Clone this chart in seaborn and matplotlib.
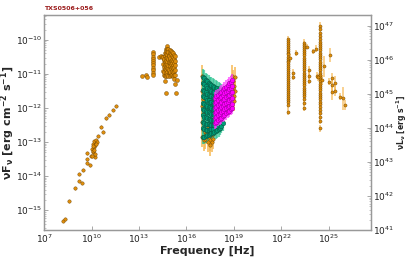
import numpy as np
import matplotlib
matplotlib.use("Agg")
import matplotlib.pyplot as plt
import seaborn as sns
from matplotlib.ticker import LogLocator, NullLocator, FixedLocator

# all values are log10(nu [Hz]) and log10(nuFnu [erg cm-2 s-1])
radio_nu = [8.22, 8.35, 8.60, 8.96, 9.20, 9.40, 9.20, 9.45, 9.70, 9.70, 9.74, 9.90, 9.95,
            10.05, 10.10, 10.12, 10.15, 10.18, 10.20, 10.25, 10.30, 10.35, 10.12, 10.22,
            10.08, 10.16, 10.28, 10.02,
            10.44, 10.60, 10.75, 10.92, 11.13, 11.37, 11.55]
radio_f = [-15.31, -15.26, -14.74, -14.36, -14.14, -14.20, -13.94, -13.82, -13.33, -13.62,
           -13.50, -13.68, -13.40, -13.20, -13.05, -13.30, -12.98, -13.15, -13.44, -13.10,
           -12.95, -13.00, -13.25, -13.35, -13.12, -13.22, -13.05, -13.42,
           -12.82, -12.55, -12.70, -12.30, -12.20, -12.06, -11.94]

# IR / optical / UV, orange
opt_nu = [13.18, 13.43, 13.50,
          13.88, 13.90, 13.89, 13.91, 13.88, 13.90, 13.89, 13.91, 13.90, 13.88, 13.90,
          14.28, 14.38, 14.47,
          14.55, 14.56, 14.54, 14.57, 14.55, 14.56,
          14.62, 14.63, 14.61, 14.64, 14.62, 14.63, 14.61, 14.62,
          14.70, 14.72, 14.69, 14.71, 14.70, 14.73, 14.68, 14.70, 14.72, 14.71,
          14.77, 14.78, 14.76, 14.79, 14.77, 14.80, 14.78, 14.76, 14.77, 14.79,
          14.86, 14.85, 14.88, 14.84, 14.87, 14.86, 14.85, 14.87, 14.86,
          14.93, 14.94, 14.92, 14.95, 14.93, 14.94, 14.92, 14.95, 14.93,
          15.00, 15.01, 14.99, 15.02, 15.00, 15.01, 14.99, 15.00,
          15.08, 15.09, 15.07, 15.10, 15.08, 15.09, 15.07,
          15.15, 15.16, 15.14, 15.17, 15.15, 15.16, 15.14,
          15.22, 15.23, 15.21, 15.24, 15.22, 15.23,
          15.28, 15.29, 15.27, 15.28, 15.29,
          14.62, 15.20, 15.40, 15.25, 14.70, 15.35]
opt_f = [-11.05, -11.03, -11.08,
         -10.37, -10.43, -10.49, -10.55, -10.62, -10.68, -10.75, -10.82, -10.89, -10.96, -11.03,
         -10.49, -10.47, -10.50,
         -10.50, -10.60, -10.70, -10.80, -10.92, -11.02,
         -10.40, -10.48, -10.57, -10.66, -10.75, -10.85, -10.95, -11.05,
         -10.26, -10.34, -10.43, -10.52, -10.61, -10.70, -10.79, -10.88, -10.97, -11.06,
         -10.18, -10.27, -10.36, -10.45, -10.54, -10.64, -10.73, -10.83, -10.93, -11.04,
         -10.28, -10.37, -10.46, -10.56, -10.66, -10.76, -10.86, -10.96, -11.06,
         -10.30, -10.39, -10.48, -10.58, -10.68, -10.78, -10.88, -10.97, -11.07,
         -10.32, -10.42, -10.52, -10.62, -10.72, -10.83, -10.94, -11.04,
         -10.36, -10.47, -10.58, -10.69, -10.80, -10.92, -11.03,
         -10.40, -10.51, -10.62, -10.73, -10.84, -10.95, -11.05,
         -10.44, -10.56, -10.68, -10.80, -10.92, -11.03,
         -10.48, -10.61, -10.75, -10.89, -11.02,
         -11.20, -11.16, -11.18, -11.30, -11.57, -11.55]

# soft X-ray, orange (underneath the green)
xo_nu = [17.00, 17.02, 17.01, 17.03, 17.00, 17.02, 17.01, 17.03, 17.00,
         17.10, 17.15, 17.20, 17.25,
         17.35, 17.40, 17.45, 17.50, 17.55, 17.60, 17.65, 17.70, 17.48, 17.58, 17.38, 17.68,
         18.90, 18.95, 19.00, 19.05, 18.98, 19.02, 18.92, 19.05]
xo_f = [-11.05, -11.28, -11.50, -11.73, -11.95, -12.18, -12.40, -12.63, -12.85,
        -12.95, -12.70, -12.90, -12.75,
        -12.60, -12.85, -12.70, -12.95, -12.80, -13.00, -12.75, -12.90, -13.10, -12.65, -13.00, -12.55,
        -11.05, -11.20, -11.35, -11.50, -11.65, -11.80, -11.40, -11.10]

# X-ray, green: one frequency per column, fluxes per column
xg_cols = [17.04, 17.13, 17.22, 17.31, 17.40, 17.49, 17.58, 17.67, 17.76, 17.85,
           17.94, 18.03, 18.12, 18.21, 18.30]
xg_vals = [
    [-11.08, -11.27, -11.46, -11.65, -11.84, -12.03, -12.22, -12.41, -12.60, -12.84],
    [-11.12, -11.31, -11.50, -11.68, -11.87, -12.06, -12.25, -12.44, -12.63, -12.85],
    [-11.18, -11.36, -11.54, -11.72, -11.90, -12.08, -12.27, -12.46, -12.64, -12.82],
    [-11.22, -11.40, -11.58, -11.76, -11.93, -12.11, -12.29, -12.47, -12.64, -12.80],
    [-11.26, -11.43, -11.61, -11.78, -11.96, -12.13, -12.31, -12.48, -12.64, -12.78],
    [-11.30, -11.47, -11.64, -11.81, -11.98, -12.15, -12.32, -12.49, -12.63, -12.76],
    [-11.32, -11.49, -11.66, -11.83, -12.00, -12.17, -12.34, -12.50, -12.63, -12.74],
    [-11.35, -11.52, -11.68, -11.85, -12.02, -12.19, -12.35, -12.51, -12.62, -12.72],
    [-11.37, -11.54, -11.70, -11.87, -12.03, -12.20, -12.36, -12.51, -12.70],
    [-11.40, -11.56, -11.72, -11.88, -12.04, -12.20, -12.36, -12.52, -12.68],
    [-11.42, -11.58, -11.74, -11.90, -12.06, -12.22, -12.38, -12.52, -12.65],
    [-11.45, -11.61, -11.77, -11.93, -12.09, -12.25, -12.40, -12.62],
    [-11.48, -11.64, -11.80, -11.96, -12.12, -12.28, -12.44, -12.58],
    [-11.52, -11.68, -11.84, -12.00, -12.16, -12.32, -12.52],
    [-11.60, -11.76, -11.92, -12.08, -12.24, -12.45],
]

# hard X-ray, magenta
xm_cols = [17.80, 17.90, 18.00, 18.10, 18.20, 18.30, 18.40, 18.50, 18.60, 18.70, 18.80, 18.90]
xm_vals = [
    [-11.71, -11.86, -12.01, -12.15, -12.30, -12.44],
    [-11.66, -11.81, -11.96, -12.11, -12.26, -12.40],
    [-11.61, -11.76, -11.91, -12.06, -12.21, -12.36],
    [-11.57, -11.72, -11.87, -12.02, -12.17, -12.32],
    [-11.52, -11.67, -11.82, -11.97, -12.12, -12.28],
    [-11.47, -11.62, -11.77, -11.93, -12.08, -12.24],
    [-11.42, -11.57, -11.73, -11.89, -12.04, -12.20],
    [-11.37, -11.53, -11.69, -11.85, -12.00, -12.16],
    [-11.33, -11.49, -11.65, -11.81, -11.97, -12.12],
    [-11.28, -11.44, -11.61, -11.77, -11.93, -12.08],
    [-11.23, -11.40, -11.57, -11.74, -11.90, -12.04],
    [-11.18, -11.36, -11.54, -11.72, -11.88, -12.00],
]

# gamma-ray columns (Fermi-LAT energy bins), orange
gcol_nu = [22.42, 23.41, 24.42]
gcol_vals = [
    [-9.98, -10.04, -10.09, -10.15, -10.21, -10.26, -10.32, -10.38, -10.43, -10.49,
     -10.55, -10.61, -10.66, -10.72, -10.78, -10.83, -10.89, -10.95, -11.01, -11.06,
     -11.12, -11.18, -11.24, -11.29, -11.35, -11.41, -11.47, -11.53, -11.58, -11.64,
     -11.70, -11.76, -11.82, -11.90, -12.11],
    [-10.09, -10.14, -10.20, -10.27, -10.33, -10.39, -10.45, -10.52, -10.58, -10.64,
     -10.71, -10.77, -10.83, -10.90, -10.96, -11.02, -11.09, -11.15, -11.21, -11.28,
     -11.34, -11.40, -11.47, -11.53, -11.60, -11.66, -11.74, -11.85, -12.00],
    [-9.59, -9.68, -9.80, -9.90, -9.98, -10.05, -10.12, -10.18, -10.25, -10.31,
     -10.38, -10.44, -10.51, -10.57, -10.64, -10.70, -10.77, -10.83, -10.90, -10.96,
     -11.03, -11.09, -11.16, -11.22, -11.29, -11.35, -11.42, -11.48, -11.55, -11.61,
     -11.68, -11.74, -11.81, -11.88, -11.96, -12.05, -12.14, -12.25, -12.38, -12.59],
]
# scattered gamma-ray points with their own error bars (dex)
g_nu = [22.56, 22.72, 22.72, 22.95, 23.73, 23.73, 23.73, 23.62, 24.00,
        24.20, 24.25, 24.30, 24.57, 24.72, 25.10, 25.00, 25.20, 25.20, 25.20,
        25.40, 25.40, 25.70, 25.90, 26.05]
g_f = [-10.54, -10.97, -11.09, -10.39, -10.90, -11.05, -11.20, -10.20, -10.34,
       -10.26, -11.05, -11.10, -11.18, -10.78, -10.44, -11.23, -11.12, -11.32, -11.52,
       -11.27, -11.50, -11.67, -11.72, -11.91]
g_err = [0.12, 0.10, 0.10, 0.08, 0.12, 0.10, 0.10, 0.08, 0.08,
         0.10, 0.10, 0.10, 0.15, 0.30, 0.20, 0.10, 0.15, 0.20, 0.25,
         0.20, 0.15, 0.10, 0.35, 0.15]


def flat(cols, vals):
    nu, f = [], []
    for c, v in zip(cols, vals):
        nu += [c] * len(v)
        f += list(v)
    return nu, f


xg_nu, xg_f = flat(xg_cols, xg_vals)
xm_nu, xm_f = flat(xm_cols, xm_vals)
gc_nu, gc_f = flat(gcol_nu, gcol_vals)

sns.set_style("ticks")
plt.rcParams['font.family'] = ['DejaVu Sans']
plt.rcParams['mathtext.fontset'] = 'dejavusans'

fig = plt.figure(figsize=(4.08, 2.62), dpi=100)
ax = fig.add_axes([0.108, 0.122, 0.801, 0.821])

orange = "#e08e0b"
orange_err = "#f7b955"
dark = "#6a4200"


def p(v):
    return np.power(10.0, np.array(v, dtype=float))


def bars(nu, f, err, color, lw, alpha, z):
    f = np.array(f, dtype=float)
    err = np.broadcast_to(np.array(err, dtype=float), f.shape)
    lo = p(f) - p(f - err)
    hi = p(f + err) - p(f)
    ax.errorbar(p(nu), p(f), yerr=[lo, hi], fmt="none", ecolor=color,
                elinewidth=lw, alpha=alpha, zorder=z)


def pts(nu, f, face, edge, size=6, z=3):
    sns.scatterplot(x=p(nu), y=p(f), ax=ax, color=face, edgecolor=edge,
                    linewidth=0.3, s=size, zorder=z, legend=False)


bars(radio_nu, radio_f, 0.04, orange_err, 0.8, 0.7, 2)
bars(opt_nu, opt_f, 0.03, orange_err, 0.8, 0.7, 2)
bars(xo_nu, xo_f, 0.3, orange_err, 1.4, 0.8, 2)
bars(xg_nu, xg_f, 0.22, "#2ec493", 1.6, 0.7, 2)
bars(xm_nu, xm_f, 0.18, "#ff40ff", 1.5, 0.7, 4)
bars(gc_nu, gc_f, 0.1, orange_err, 1.3, 0.7, 2)
bars(g_nu, g_f, g_err, orange_err, 1.3, 0.7, 2)

pts(radio_nu, radio_f, orange, dark)
pts(opt_nu, opt_f, orange, dark, size=8)
pts(xo_nu, xo_f, orange, dark, size=6)
pts(xg_nu, xg_f, "#009e76", "#0b4a3a", size=11, z=3)
pts(xm_nu, xm_f, "#ff00ff", "#8a008a", size=10, z=5)
pts(gc_nu, gc_f, orange, dark, size=5)
pts(g_nu, g_f, orange, dark, size=5)

ax.set_xscale("log")
ax.set_yscale("log")
ax.set_xlim(1e7, 10 ** 27.66)
ax.set_ylim(10 ** -15.58, 10 ** -9.27)
ax.xaxis.set_major_locator(FixedLocator([1e7, 1e10, 1e13, 1e16, 1e19, 1e22, 1e25]))
ax.xaxis.set_minor_locator(NullLocator())
ax.yaxis.set_major_locator(LogLocator(base=10.0, numticks=10))
ax.yaxis.set_minor_locator(LogLocator(base=10.0, subs=np.arange(2, 10), numticks=20))

ax.set_xlabel("Frequency [Hz]", fontsize=8, fontweight="bold", labelpad=1)
ax.set_ylabel(r"$\mathbf{\nu F_{\nu}}$ [erg cm$^{\mathbf{-2}}$ s$^{\mathbf{-1}}$]",
              fontsize=8, fontweight="bold")
ax.yaxis.set_label_coords(-0.082, 0.5)

ax2 = ax.twinx()
ax2.set_yscale("log")
ax2.set_ylim(1e41, 10 ** 47.31)
ax2.yaxis.set_major_locator(LogLocator(base=10.0, numticks=10))
ax2.yaxis.set_minor_locator(LogLocator(base=10.0, subs=np.arange(2, 10), numticks=20))
ax2.set_ylabel(r"$\mathbf{\nu L_{\nu}}$ [erg s$^{\mathbf{-1}}$]", fontsize=5.5,
               fontweight="bold")
ax2.yaxis.set_label_coords(1.072, 0.5)

for a in (ax, ax2):
    for s in a.spines.values():
        s.set_color("#999999")
        s.set_linewidth(0.9)
    a.tick_params(which="both", direction="in", colors="#999999", labelcolor="#222222",
                  labelsize=6.5, pad=1.5)
    a.tick_params(which="major", length=3, width=0.6)
    a.tick_params(which="minor", length=1.5, width=0.4)

ax.text(0.0, 1.02, "TXS0506+056", transform=ax.transAxes, fontsize=4.5,
        fontweight="bold", color="#9b1b1b", ha="left", va="bottom")

fig.savefig("out.png", dpi=100)
